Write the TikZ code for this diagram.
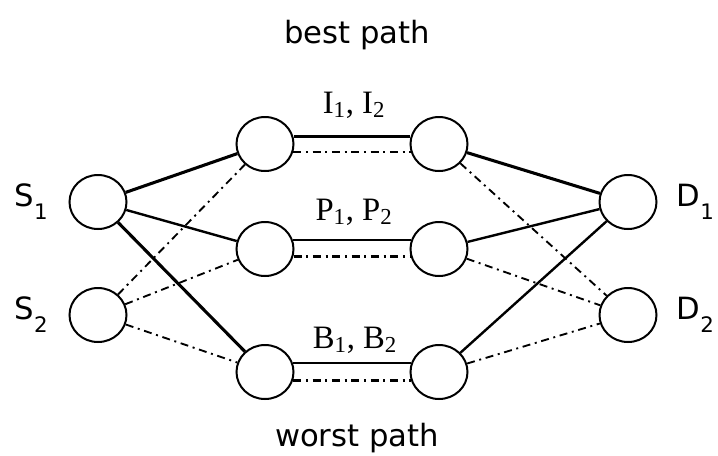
\documentclass[tikz,border=0pt]{standalone}
\usepackage{fontspec}
\setmainfont{DejaVu Sans}
\newfontfamily\pairfont{Liberation Serif}
\usetikzlibrary{positioning,shapes.geometric}
\newcommand{\lowsub}[1]{\raisebox{-0.42em}{\fontsize{16}{18}\selectfont #1}}

\tikzset{
  station/.style={ellipse,draw,line width=1.5pt,minimum width=42.75pt,minimum height=40.5pt,inner sep=0pt},
  good/.style={line width=2.3pt},
  fair/.style={line width=1.8pt},
  bad/.style={line width=1.4pt,dash pattern=on 6pt off 3.5pt on 1.5pt off 3.5pt},
  badthick/.style={line width=2.4pt,dash pattern=on 6pt off 3.5pt on 1.5pt off 3.5pt},
  tag/.style={font=\fontsize{23}{26}\selectfont},
  pairtag/.style={font=\pairfont\fontsize{24.5}{28}\selectfont},
}

\begin{document}
\begin{tikzpicture}[x=0.75pt,y=-0.75pt]
    \useasboundingbox (0,0) rectangle (718,455);

    % Sources and destinations
    \node[station] (src_1) at (98,202) {};
    \node[station] (src_2) at (98,315) {};
    \node[station] (dst_1) at (628,202) {};
    \node[station] (dst_2) at (628,315) {};
    \node[tag] (l_src_1) [left=12pt of src_1] {S\lowsub{1}};
    \node[tag] (l_src_2) [left=12pt of src_2] {S\lowsub{2}};
    \node[tag] (l_dst_1) [right=11pt of dst_1] {D\lowsub{1}};
    \node[tag] (l_dst_2) [right=11pt of dst_2] {D\lowsub{2}};

    % Relays of the three paths
    \node[station] (relay_i_l) at (265,144) {};
    \node[station] (relay_i_r) at (439,144) {};
    \node[station] (relay_p_l) at (265,249) {};
    \node[station] (relay_p_r) at (439,249) {};
    \node[station] (relay_b_l) at (265,372) {};
    \node[station] (relay_b_r) at (439,372) {};

    \node[pairtag,anchor=base] (l_i) at (354,113) {I\textsubscript{1}, I\textsubscript{2}};
    \node[pairtag,anchor=base] (l_p) at (354,220) {P\textsubscript{1}, P\textsubscript{2}};
    \node[pairtag,anchor=base] (l_b) at (355,348) {B\textsubscript{1}, B\textsubscript{2}};
    \node[tag,anchor=base] (l_best) at (357,43) {best path};
    \node[tag,anchor=base] (l_worst) at (357,446) {worst path};

    % First hop
    \draw[good] (src_1) -- (relay_i_l);
    \draw[fair] (src_1) -- (relay_p_l);
    \draw[good] (src_1) -- (relay_b_l);
    \draw[bad] (src_2) -- (relay_i_l);
    \draw[bad] (src_2) -- (relay_p_l);
    \draw[bad] (src_2) -- (relay_b_l);

    % Relay to relay, two users on each path
    \draw[good] (relay_i_l.14) -- (relay_i_r.166);
    \draw[bad] (relay_i_l.-16) -- (relay_i_r.-164);
    \draw[fair] (relay_p_l.18) -- (relay_p_r.162);
    \draw[badthick] (relay_p_l.-14) -- (relay_p_r.-166);
    \draw[fair] (relay_b_l.18) -- (relay_b_r.162);
    \draw[badthick] (relay_b_l.-16) -- (relay_b_r.-164);

    % Last hop
    \draw[good] (relay_i_r) -- (dst_1);
    \draw[fair] (relay_p_r) -- (dst_1);
    \draw[fair] (relay_b_r) -- (dst_1);
    \draw[bad] (relay_i_r) -- (dst_2);
    \draw[bad] (relay_p_r) -- (dst_2);
    \draw[bad] (relay_b_r) -- (dst_2);
\end{tikzpicture}
\end{document}
